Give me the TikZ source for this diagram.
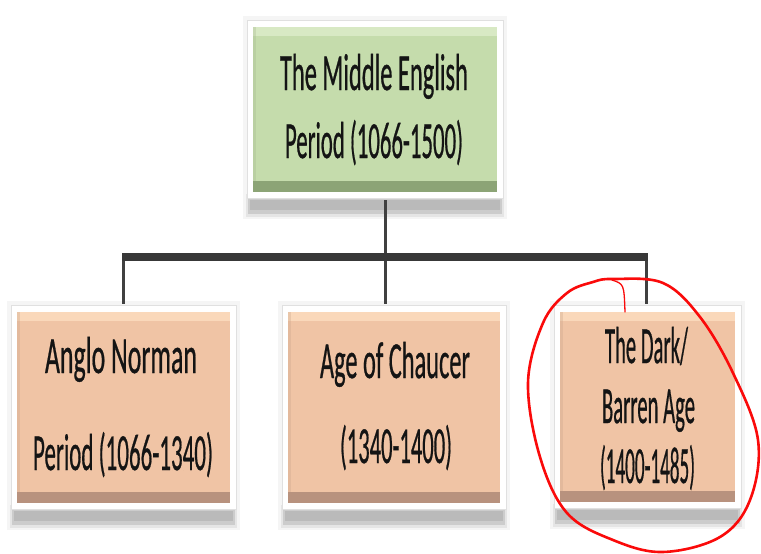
\documentclass[tikz,border=0pt]{standalone}
\usepackage{fontspec}
\setmainfont{Carlito}
\newfontfamily\boxfont{Carlito}[FakeBold=0.8]
\usetikzlibrary{backgrounds}
\definecolor{peach}{RGB}{240,196,165}
\definecolor{peachlight}{RGB}{250,216,186}
\definecolor{peachdark}{RGB}{184,146,126}
\definecolor{sage}{RGB}{197,220,172}
\definecolor{sagelight}{RGB}{216,233,196}
\definecolor{sagedark}{RGB}{140,164,118}
\definecolor{inkred}{RGB}{250,10,10}
\newcommand{\fitline}[2]{\resizebox{#1pt}{\height}{#2}}
\newcommand{\boxdeco}[4]{%
  \fill[black!4] ([xshift=-10pt,yshift=11pt]#1.north west) rectangle ([xshift=10pt,yshift=-27pt]#1.south east);
  \fill[black!10] ([xshift=-7pt,yshift=-2pt]#1.south west) rectangle ([xshift=7pt,yshift=-25pt]#1.south east);
  \fill[black!20] ([xshift=-5pt,yshift=-6pt]#1.south west) rectangle ([xshift=5pt,yshift=-22pt]#1.south east);
  \fill[black!27] ([xshift=-3pt,yshift=-8pt]#1.south west) rectangle ([xshift=3pt,yshift=-18pt]#1.south east);
  \filldraw[fill=white, draw=black!12, line width=0.8pt] ([xshift=-6pt,yshift=7pt]#1.north west) rectangle ([xshift=6pt,yshift=-6pt]#1.south east);
  \fill[#2] (#1.north west) rectangle (#1.south east);
  \fill[#3] (#1.north west) rectangle ([yshift=-9pt]#1.north east);
  \fill[#2!85!black, opacity=0.35] (#1.north west) rectangle ([xshift=3pt]#1.south west);
  \fill[#4] ([yshift=11pt]#1.south west) rectangle (#1.south east);
}
\tikzset{
  boxnode/.style={inner sep=0pt, outer sep=0pt},
  txt/.style={anchor=base, inner sep=0pt, font=\boxfont\fontsize{52}{60}\selectfont, text=black!92},
  barline/.style={draw=black!78, line width=8pt},
  dropline/.style={draw=black!75, line width=3pt},
  circled/.style={draw=inkred, line width=2.6pt, line cap=round, line join=round}
}
\begin{document}
\begin{tikzpicture}[x=1pt,y=-1pt]
\useasboundingbox (0,0) rectangle (761,554);

% boxes
\node[boxnode, minimum width=244pt, minimum height=165pt] (top) at (375,109.5) {};
\node[boxnode, minimum width=213pt, minimum height=191pt] (anglo) at (123.5,407.5) {};
\node[boxnode, minimum width=212pt, minimum height=191pt] (chaucer) at (394,407.5) {};
\node[boxnode, minimum width=175pt, minimum height=190pt] (dark) at (647.5,407) {};

% texts
\node[txt] (top1) at (374,90) {\fitline{188}{The Middle English}};
\node[txt] (top2) at (374,158) {\fitline{178}{Period (1066-1500)}};
\node[txt] (anglo1) at (121,373) {\fitline{152}{Anglo Norman}};
\node[txt] (anglo2) at (123,470) {\fitline{180}{Period (1066-1340)}};
\node[txt] (chaucer1) at (395,378) {\fitline{150}{Age of Chaucer}};
\node[txt] (chaucer2) at (396,463) {\fitline{112}{(1340-1400)}};
\node[txt] (dark1) at (646.5,363) {\fitline{83}{The Dark/}};
\node[txt] (dark2) at (648.5,423) {\fitline{93}{Barren Age}};
\node[txt] (dark3) at (647.5,483) {\fitline{95}{(1400-1485)}};

% connectors
\coordinate (jl) at (123,257);
\coordinate (jc) at (385,257);
\coordinate (jr) at (646,257);
\draw[dropline] ([yshift=-8pt]top.south -| jc) -- (jc);
\draw[dropline] (jl) -- ([yshift=8pt]anglo.north -| jl);
\draw[dropline] (jc) -- ([yshift=8pt]chaucer.north -| jc);
\draw[dropline] (jr) -- ([yshift=8pt]dark.north -| jr);
\draw[barline] ([xshift=-1pt]jl) -- ([xshift=2pt]jr);

% red hand-drawn circle
\draw[circled] plot[smooth cycle, tension=0.6] coordinates {
  (593,282) (613,279) (663,283) (700,317) (733,373) (758,440) (750,500)
  (720,537) (663,552) (613,540) (567,513) (540,457) (528,383) (543,323) (567,293)};
\draw[inkred, line width=1.3pt, line cap=round] (612,280) .. controls (624,284) .. (625,312);

\begin{scope}[on background layer]
  \boxdeco{top}{sage}{sagelight}{sagedark}
  \boxdeco{anglo}{peach}{peachlight}{peachdark}
  \boxdeco{chaucer}{peach}{peachlight}{peachdark}
  \boxdeco{dark}{peach}{peachlight}{peachdark}
\end{scope}
\end{tikzpicture}
\end{document}
